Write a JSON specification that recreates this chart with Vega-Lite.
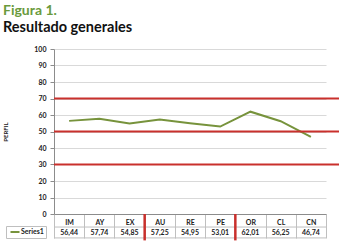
{
  "$schema": "https://vega.github.io/schema/vega-lite/v6.json",
  "width": 272,
  "height": 165,
  "autosize": "none",
  "padding": {"left": 54, "top": 49, "right": 13, "bottom": 30},
  "background": "white",
  "config": {
    "view": {"stroke": null},
    "font": "Lato",
    "axis": {"labelOverlap": false},
    "axisQuantitative": {"labelOverlap": false, "tickCount": 10},
    "axisY": {"labelOverlap": false, "tickCount": 10},
    "locale": {"number": {"decimal": ",", "thousands": ".", "grouping": [3], "currency": ["", " €"]}}
  },
  "title": {
    "text": "Figura 1.",
    "subtitle": "Resultado generales",
    "anchor": "start",
    "frame": "group",
    "dx": -51,
    "offset": 11,
    "color": "#6a9a3c",
    "fontSize": 14,
    "fontWeight": "bold",
    "subtitleColor": "#111111",
    "subtitleFontSize": 14.5,
    "subtitleFontWeight": "bold",
    "subtitlePadding": 3
  },
  "datasets": {
    "scores": [
      {"code": "IM", "series": "Series1", "value": 56.44},
      {"code": "AY", "series": "Series1", "value": 57.74},
      {"code": "EX", "series": "Series1", "value": 54.85},
      {"code": "AU", "series": "Series1", "value": 57.25},
      {"code": "RE", "series": "Series1", "value": 54.95},
      {"code": "PE", "series": "Series1", "value": 53.01},
      {"code": "OR", "series": "Series1", "value": 62.01},
      {"code": "CL", "series": "Series1", "value": 56.25},
      {"code": "CN", "series": "Series1", "value": 46.74}
    ],
    "limits": [{"limit": 30}, {"limit": 50}, {"limit": 70}]
  },
  "data": {"name": "scores"},
  "layer": [
    {
      "mark": {"type": "line", "strokeWidth": 2},
      "encoding": {
        "x": {
          "field": "code", "type": "nominal", "sort": null, "bandPosition": 0.5,
          "scale": {"type": "band", "paddingInner": 0, "paddingOuter": 0},
          "axis": {
            "title": null, "labelAngle": 0, "labelFontSize": 7, "labelFontWeight": "bold",
            "labelColor": "#222222", "tickBand": "extent", "tickSize": 24, "tickColor": "#bfbfbf",
            "domainColor": "#8c8c8c", "labelPadding": -20, "grid": false
          }
        },
        "y": {
          "field": "value", "type": "quantitative",
          "scale": {"domain": [0, 100], "nice": false},
          "axis": {
            "title": "PERFIL", "titleFontSize": 6, "titleFontWeight": "bold", "titleColor": "#222222",
            "titlePadding": 25, "tickCount": 10,
            "labelOverlap": false,
            "labelFontSize": 7, "labelFontWeight": "bold", "labelColor": "#222222",
            "tickSize": 4, "tickColor": "#8c8c8c", "domainColor": "#8c8c8c",
            "labelPadding": 4, "gridColor": "#d9d9d9"
          }
        },
        "color": {
          "field": "series", "type": "nominal",
          "scale": {"range": ["#77933c"]},
          "legend": {
            "orient": "none", "legendX": -48, "legendY": 177, "title": null,
            "symbolType": "M-1.5,0H1.5", "symbolStrokeWidth": 2, "symbolSize": 36,
            "labelFontSize": 7, "labelFontWeight": "bold", "labelColor": "#222222",
            "strokeColor": "#bfbfbf", "padding": 2, "labelOffset": 2, "symbolOffset": 3
          }
        }
      }
    },
    {
      "data": {"name": "limits"},
      "mark": {"type": "rule", "color": "#c9302c", "strokeWidth": 2, "x": 0, "x2": {"expr": "width + 13"}},
      "encoding": {"y": {"field": "limit", "type": "quantitative"}}
    },
    {
      "mark": {"type": "text", "fontSize": 7, "fontWeight": "bold", "color": "#222222"},
      "encoding": {
        "x": {"field": "code", "type": "nominal", "sort": null, "bandPosition": 0.5},
        "y": {"datum": -11.5, "type": "quantitative"},
        "text": {"field": "value", "type": "quantitative", "format": ".2f"}
      }
    },
    {
      "data": {"values": [{}]},
      "mark": {"type": "rule", "color": "#bfbfbf", "strokeWidth": 1},
      "encoding": {"y": {"datum": -7.9, "type": "quantitative"}}
    },
    {
      "data": {"values": [{}]},
      "mark": {"type": "rule", "color": "#bfbfbf", "strokeWidth": 1},
      "encoding": {"y": {"datum": -14.5, "type": "quantitative"}}
    },
    {
      "transform": [{"filter": "datum.code === 'AU' || datum.code === 'OR'"}],
      "mark": {"type": "rule", "color": "#c9302c", "strokeWidth": 2.5},
      "encoding": {
        "x": {"field": "code", "type": "nominal", "sort": null, "bandPosition": 0},
        "y": {"datum": 0, "type": "quantitative"},
        "y2": {"datum": -16}
      }
    }
  ]
}
